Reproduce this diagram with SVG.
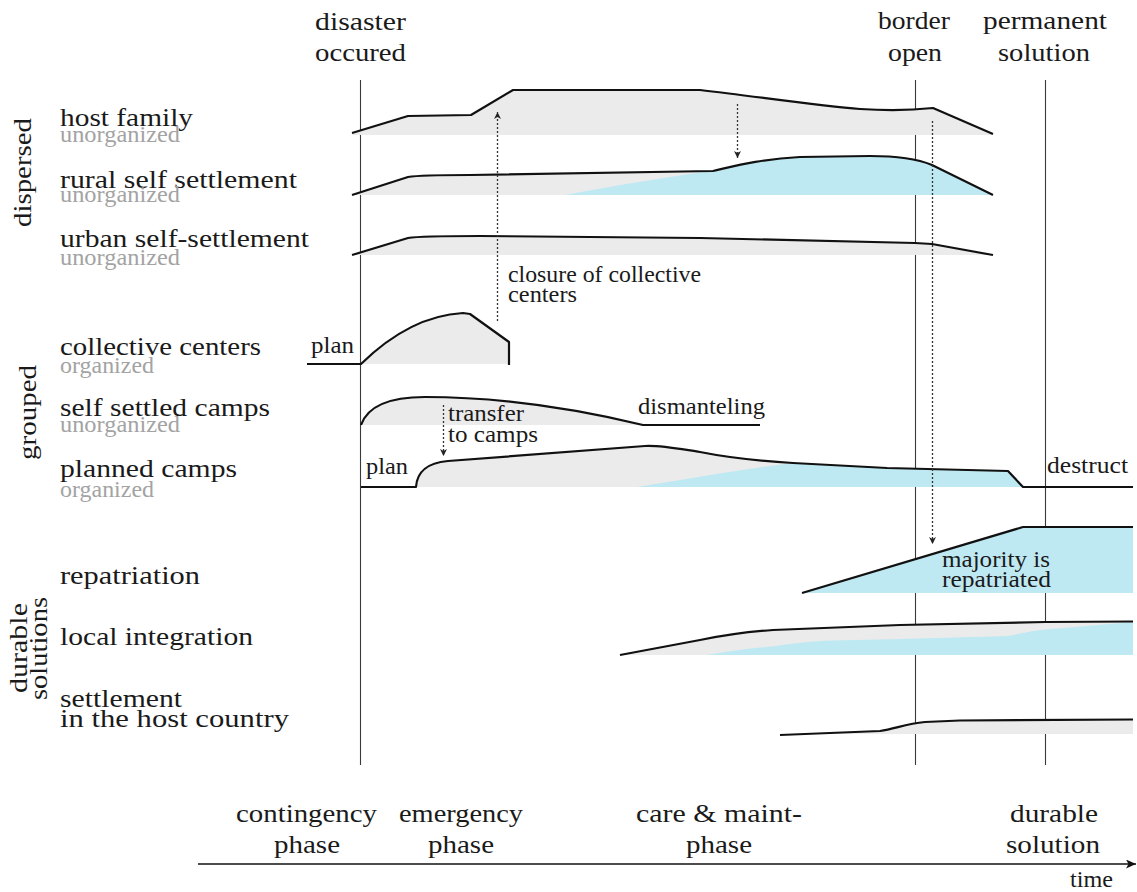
<svg xmlns="http://www.w3.org/2000/svg" width="1137" height="892" viewBox="0 0 1137 892">
<style>
.lbl{font-family:"Liberation Serif",serif;font-size:26px;fill:#1a1a1a}
.sub{font-family:"Liberation Serif",serif;font-size:23px;fill:#a3a3a3}
.ann{font-family:"Liberation Serif",serif;font-size:23px;fill:#1a1a1a}
.crv{fill:none;stroke:#111;stroke-width:2.2;stroke-linejoin:round}
.gray{fill:#ebebeb}
.cyan{fill:#bfe9f2}
.vline{stroke:#3a3a3a;stroke-width:1.1;fill:none}
.dot{stroke:#333;stroke-width:1.3;stroke-dasharray:2 2;fill:none}
</style>
<defs>
<marker id="sm" markerUnits="userSpaceOnUse" markerWidth="8" markerHeight="8" refX="7" refY="3.5" orient="auto">
<path d="M0,0 L7,3.5 L0,7 L2,3.5 z" fill="#222"/>
</marker>
<marker id="ax" markerUnits="userSpaceOnUse" markerWidth="12" markerHeight="10" refX="10" refY="4.5" orient="auto">
<path d="M0,0 L10,4.5 L0,9 L2.5,4.5 z" fill="#111"/>
</marker>
</defs>

<g id="timelines">
<line class="vline" x1="360.5" y1="80" x2="360.5" y2="765"/>
<line class="vline" x1="915.5" y1="80" x2="915.5" y2="765"/>
<line class="vline" x1="1045.5" y1="80" x2="1045.5" y2="765"/>
<text class="lbl" font-family="Liberation Serif" x="315" y="30" textLength="91" lengthAdjust="spacingAndGlyphs">disaster</text>
<text class="lbl" font-family="Liberation Serif" x="315" y="61" textLength="91" lengthAdjust="spacingAndGlyphs">occured</text>
<text class="lbl" font-family="Liberation Serif" x="878" y="29" textLength="72" lengthAdjust="spacingAndGlyphs">border</text>
<text class="lbl" font-family="Liberation Serif" x="888" y="61" textLength="54" lengthAdjust="spacingAndGlyphs">open</text>
<text class="lbl" font-family="Liberation Serif" x="983" y="29" textLength="124" lengthAdjust="spacingAndGlyphs">permanent</text>
<text class="lbl" font-family="Liberation Serif" x="998" y="61" textLength="92" lengthAdjust="spacingAndGlyphs">solution</text>
</g>

<g id="group-labels">
<text class="lbl" font-family="Liberation Serif" transform="translate(31,227) rotate(-90)" textLength="109" lengthAdjust="spacingAndGlyphs">dispersed</text>
<text class="lbl" font-family="Liberation Serif" transform="translate(36,460) rotate(-90)" textLength="95" lengthAdjust="spacingAndGlyphs">grouped</text>
<text class="lbl" font-family="Liberation Serif" transform="translate(27,693) rotate(-90)" textLength="90" lengthAdjust="spacingAndGlyphs">durable</text>
<text class="lbl" font-family="Liberation Serif" transform="translate(47,700) rotate(-90)" textLength="103" lengthAdjust="spacingAndGlyphs">solutions</text>
</g>

<g id="host-family">
<path class="gray" d="M352,133 L408,116 L471,115 L513,90 L700,90 C760,97 820,106 860,109 C890,111 915,110 933,108 L993,134 L993,135 L352,135 Z"/>
<path class="crv" d="M352,133 L408,116 L471,115 L513,90 L700,90 C760,97 820,106 860,109 C890,111 915,110 933,108 L993,134"/>
<text class="lbl" font-family="Liberation Serif" x="60" y="125.5" textLength="133" lengthAdjust="spacingAndGlyphs">host family</text>
<text class="sub" font-family="Liberation Serif" x="60" y="142" textLength="120" lengthAdjust="spacingAndGlyphs">unorganized</text>
</g>

<g id="rural-self-settlement">
<path class="gray" d="M352,195 L408,177 C420,175 440,175 470,175 L713,171 C735,166 760,159 800,157 L870,156 C900,156 920,160 932,165 L993,195 Z"/>
<path class="cyan" d="M565,195 C620,185 670,176 713,171 C735,166 760,159 800,157 L870,156 C900,156 920,160 932,165 L993,195 Z"/>
<path class="crv" d="M352,195 L408,177 C420,175 440,175 470,175 L713,171 C735,166 760,159 800,157 L870,156 C900,156 920,160 932,165 L993,195"/>
<text class="lbl" font-family="Liberation Serif" x="60" y="187.5" textLength="237" lengthAdjust="spacingAndGlyphs">rural self settlement</text>
<text class="sub" font-family="Liberation Serif" x="60" y="202" textLength="120" lengthAdjust="spacingAndGlyphs">unorganized</text>
</g>

<g id="urban-self-settlement">
<path class="gray" d="M352,255 L408,238 C420,236 440,236 480,236 L700,238 L915,243 L932,244 L993,255 Z"/>
<path class="crv" d="M352,255 L408,238 C420,236 440,236 480,236 L700,238 L915,243 L932,244 L993,255"/>
<text class="lbl" font-family="Liberation Serif" x="60" y="247" textLength="249" lengthAdjust="spacingAndGlyphs">urban self-settlement</text>
<text class="sub" font-family="Liberation Serif" x="60" y="265" textLength="120" lengthAdjust="spacingAndGlyphs">unorganized</text>
</g>

<g id="collective-centers">
<path class="gray" d="M361,364 Q410,316 463,313 L470,314 L509,342 L509,364 Z"/>
<path class="crv" d="M307,364 L361,364 Q410,316 463,313 L470,314 L509,342 L509,365"/>
<text class="ann" font-family="Liberation Serif" x="311" y="353" textLength="43" lengthAdjust="spacingAndGlyphs">plan</text>
<text class="lbl" font-family="Liberation Serif" x="60" y="355" textLength="201" lengthAdjust="spacingAndGlyphs">collective centers</text>
<text class="sub" font-family="Liberation Serif" x="60" y="372.5" textLength="94" lengthAdjust="spacingAndGlyphs">organized</text>
</g>

<g id="self-settled-camps">
<path class="gray" d="M361,425 C368,405 390,397 425,397 C490,397 560,405 643,425 Z"/>
<path class="crv" d="M361,425 C368,405 390,397 425,397 C490,397 560,405 643,425 L760,425"/>
<text class="ann" font-family="Liberation Serif" x="638" y="414" textLength="127" lengthAdjust="spacingAndGlyphs">dismanteling</text>
<text class="lbl" font-family="Liberation Serif" x="60" y="416" textLength="210" lengthAdjust="spacingAndGlyphs">self settled camps</text>
<text class="sub" font-family="Liberation Serif" x="60" y="432" textLength="120" lengthAdjust="spacingAndGlyphs">unorganized</text>
</g>

<g id="planned-camps">
<path class="gray" d="M416,487 C417,472 426,463 448,461 L645,446 C660,445 680,449 700,452 C730,458 760,461 793,463 L887,468 L1008,471 L1023,487 Z"/>
<path class="cyan" d="M637,487 C700,477 750,468 793,463 L887,468 L1008,471 L1023,487 Z"/>
<path class="crv" d="M361,487 L416,487 C417,472 426,463 448,461 L645,446 C660,445 680,449 700,452 C730,458 760,461 793,463 L887,468 L1008,471 L1023,487 L1133,487"/>
<text class="ann" font-family="Liberation Serif" x="366" y="474" textLength="42" lengthAdjust="spacingAndGlyphs">plan</text>
<text class="ann" font-family="Liberation Serif" x="1047" y="473" textLength="81" lengthAdjust="spacingAndGlyphs">destruct</text>
<text class="lbl" font-family="Liberation Serif" x="60" y="476.5" textLength="177" lengthAdjust="spacingAndGlyphs">planned camps</text>
<text class="sub" font-family="Liberation Serif" x="60" y="496.5" textLength="94" lengthAdjust="spacingAndGlyphs">organized</text>
</g>

<g id="repatriation">
<path class="cyan" d="M802,593 L1023,527 L1133,527 L1133,593 Z"/>
<path class="crv" d="M802,593 L1023,527 L1133,527"/>
<text class="ann" font-family="Liberation Serif" x="942" y="567" textLength="108" lengthAdjust="spacingAndGlyphs">majority is</text>
<text class="ann" font-family="Liberation Serif" x="942" y="587" textLength="109" lengthAdjust="spacingAndGlyphs">repatriated</text>
<text class="lbl" font-family="Liberation Serif" x="60" y="583.5" textLength="140" lengthAdjust="spacingAndGlyphs">repatriation</text>
</g>

<g id="local-integration">
<path class="gray" d="M620,655 L700,640 C720,636 745,632 773,630 L900,625 L1045,622 L1133,621.5 L1133,655 Z"/>
<path class="cyan" d="M706,655 C730,651 750,648 767,647 C790,644 810,641 833,640.5 L900,639 L1008,636 C1020,634 1030,631 1045,629.5 L1133,622 L1133,655 Z"/>
<path class="crv" d="M620,655 L700,640 C720,636 745,632 773,630 L900,625 L1045,622 L1133,621.5"/>
<text class="lbl" font-family="Liberation Serif" x="60" y="644.5" textLength="193" lengthAdjust="spacingAndGlyphs">local integration</text>
</g>

<g id="settlement-host-country">
<path class="gray" d="M780,735 L880,731 C895,729 905,724 925,722 L960,720.5 L1133,719.5 L1133,734 L780,734 Z"/>
<path class="crv" d="M780,735 L880,731 C895,729 905,724 925,722 L960,720.5 L1133,719.5"/>
<text class="lbl" font-family="Liberation Serif" x="60" y="706.5" textLength="122" lengthAdjust="spacingAndGlyphs">settlement</text>
<text class="lbl" font-family="Liberation Serif" x="60" y="726.5" textLength="229" lengthAdjust="spacingAndGlyphs">in the host country</text>
</g>

<g id="connectors">
<path class="dot" d="M497.5,321 L497.5,112" marker-end="url(#sm)"/>
<path class="dot" d="M737.5,104 L737.5,158" marker-end="url(#sm)"/>
<path class="dot" d="M443.5,405 L443.5,456" marker-end="url(#sm)"/>
<path class="dot" d="M932.5,121 L932.5,544" marker-end="url(#sm)"/>
<line x1="198" y1="864" x2="1136" y2="864" stroke="#111" stroke-width="1.5" marker-end="url(#ax)"/>
</g>

<g id="annotations">
<text class="ann" font-family="Liberation Serif" x="508" y="282" textLength="193" lengthAdjust="spacingAndGlyphs">closure of collective</text>
<text class="ann" font-family="Liberation Serif" x="508" y="302" textLength="69" lengthAdjust="spacingAndGlyphs">centers</text>
<text class="ann" font-family="Liberation Serif" x="448" y="421" textLength="76" lengthAdjust="spacingAndGlyphs">transfer</text>
<text class="ann" font-family="Liberation Serif" x="448" y="442" textLength="90" lengthAdjust="spacingAndGlyphs">to camps</text>
</g>

<g id="phases">
<text class="lbl" font-family="Liberation Serif" x="236" y="822" textLength="141" lengthAdjust="spacingAndGlyphs">contingency</text>
<text class="lbl" font-family="Liberation Serif" x="274" y="853" textLength="66" lengthAdjust="spacingAndGlyphs">phase</text>
<text class="lbl" font-family="Liberation Serif" x="399" y="822" textLength="124" lengthAdjust="spacingAndGlyphs">emergency</text>
<text class="lbl" font-family="Liberation Serif" x="428" y="853" textLength="66" lengthAdjust="spacingAndGlyphs">phase</text>
<text class="lbl" font-family="Liberation Serif" x="636" y="822" textLength="166" lengthAdjust="spacingAndGlyphs">care &amp; maint-</text>
<text class="lbl" font-family="Liberation Serif" x="686" y="853" textLength="66" lengthAdjust="spacingAndGlyphs">phase</text>
<text class="lbl" font-family="Liberation Serif" x="1010" y="822" textLength="88" lengthAdjust="spacingAndGlyphs">durable</text>
<text class="lbl" font-family="Liberation Serif" x="1006" y="853" textLength="94" lengthAdjust="spacingAndGlyphs">solution</text>
<text class="ann" font-family="Liberation Serif" x="1070" y="887" textLength="43" lengthAdjust="spacingAndGlyphs">time</text>
</g>
</svg>
